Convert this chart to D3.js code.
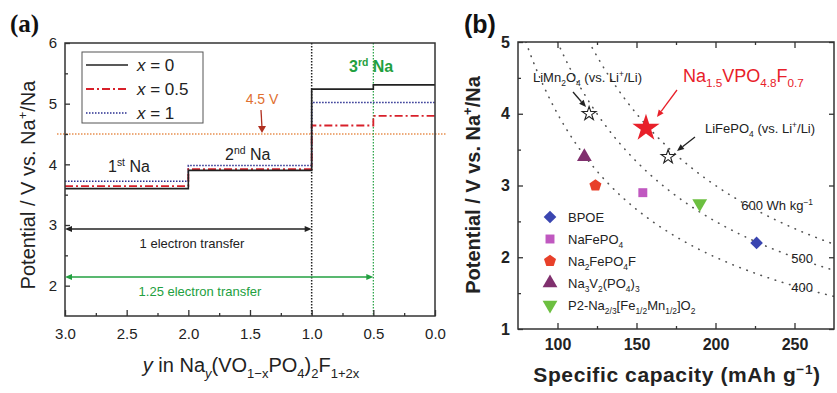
<!DOCTYPE html>
<html>
<head>
<meta charset="utf-8">
<script src="https://cdn.jsdelivr.net/npm/d3@7"></script>
<style>
  body { margin: 0; background: #fff; }
  svg { font-family: "Liberation Sans", Arial, sans-serif; }
</style>
</head>
<body>
<svg id="chart" width="837" height="393"></svg>
<script>
// ---- panel (a) data ----
const stepEdges = [3.0, 2.0, 1.0, 0.5, 0.0];
const potX0 = [3.60, 3.90, 5.24, 5.31];
const potX05 = [3.64, 3.92, 4.64, 4.80];
const potX1 = [3.72, 3.98, 5.02, 5.02];
const legendA = ["0", "0.5", "1"];
const yTicksA = [2, 3, 4, 5, 6];
const xTicksA = [3.0, 2.5, 2.0, 1.5, 1.0, 0.5, 0.0];

// ---- panel (b) data ----
const materials = ["BPOE", "NaFePO4", "Na2FePO4F", "Na3V2(PO4)3", "P2-Na2/3[Fe1/2Mn1/2]O2"];
const matCapacity = [226, 154, 124, 117, 190];
const matPotential = [2.2, 2.9, 3.0, 3.4, 2.75];
const refCapacity = [120, 170];   // LiMn2O4, LiFePO4 (vs Li+/Li)
const refPotential = [4.0, 3.4];
const newCapacity = [156];        // Na1.5VPO4.8F0.7
const newPotential = [3.8];
const energyLevels = [400, 500, 600];
const xTicksB = [100, 150, 200, 250];
const yTicksB = [1, 2, 3, 4, 5];

const svg = d3.select('#chart');

// helper: text with sub/superscripts. parts = [[str, kind, italic]]
function rich(sel, parts, size) {
  let shift = 0;
  parts.forEach(([s, kind, it]) => {
    const target = kind === 'sub' ? size * 0.3 : kind === 'sup' ? -size * 0.4 : 0;
    const t = sel.append('tspan')
      .attr('dy', target - shift)
      .style('font-size', kind ? (size * 0.65) + 'px' : size + 'px')
      .text(s);
    if (it) t.style('font-style', 'italic');
    shift = target;
  });
  return sel;
}

// ================= PANEL (a) =================
const A = { left: 65, right: 435, top: 43, bottom: 316 };
const xA = d3.scaleLinear().domain([3, 0]).range([A.left, A.right]);
const yA = d3.scaleLinear().domain([1.5, 6]).range([A.bottom, A.top]);
const ga = svg.append('g');

// reference lines
ga.append('line')
  .attr('x1', A.left - 8).attr('x2', A.right + 12)
  .attr('y1', yA(4.5)).attr('y2', yA(4.5))
  .attr('stroke', '#e89050').attr('stroke-width', 1.3).attr('stroke-dasharray', '1.5,1.5');
ga.append('line')
  .attr('x1', xA(1)).attr('x2', xA(1)).attr('y1', A.top).attr('y2', A.bottom)
  .attr('stroke', '#222').attr('stroke-width', 1.5).attr('stroke-dasharray', '1.5,1.5');
ga.append('line')
  .attr('x1', xA(0.5)).attr('x2', xA(0.5)).attr('y1', A.top).attr('y2', A.bottom)
  .attr('stroke', '#22a040').attr('stroke-width', 1.2).attr('stroke-dasharray', '1.5,1.5');

// step curves
const stepLine = d3.line().x(d => xA(d[0])).y(d => yA(d[1])).curve(d3.curveStepAfter);
function stepPts(vals) {
  const pts = vals.map((v, i) => [stepEdges[i], v]);
  pts.push([stepEdges[stepEdges.length - 1], vals[vals.length - 1]]);
  return pts;
}
const stylesA = [
  { vals: potX1, color: '#2a2f90', dash: '1.5,1.5', w: 1.6 },
  { vals: potX05, color: '#d8202a', dash: '8,3,2,3', w: 1.8 },
  { vals: potX0, color: '#222', dash: null, w: 1.6 }
];
stylesA.forEach(s => {
  ga.append('path')
    .attr('d', stepLine(stepPts(s.vals)))
    .attr('fill', 'none')
    .attr('stroke', s.color)
    .attr('stroke-width', s.w)
    .attr('stroke-dasharray', s.dash);
});

// frame
ga.append('rect')
  .attr('x', A.left).attr('y', A.top)
  .attr('width', A.right - A.left).attr('height', A.bottom - A.top)
  .attr('fill', 'none').attr('stroke', '#333').attr('stroke-width', 1.5);

// axes with inward ticks
ga.append('g').attr('transform', `translate(${A.left},0)`)
  .call(d3.axisLeft(yA).tickValues(yTicksA).tickSize(-5).tickPadding(8).tickFormat(d3.format('d')));
ga.append('g').attr('transform', `translate(${A.left},0)`)
  .call(d3.axisLeft(yA).tickValues([2.5, 3.5, 4.5, 5.5]).tickSize(-3).tickFormat(''));
ga.append('g').attr('transform', `translate(0,${A.bottom})`)
  .call(d3.axisBottom(xA).tickValues(xTicksA).tickSize(-6).tickPadding(12).tickFormat(d3.format('.1f')));
ga.append('g').attr('transform', `translate(0,${A.bottom})`)
  .call(d3.axisBottom(xA).tickValues([2.75, 2.25, 1.75, 1.25, 0.75, 0.25]).tickSize(-3).tickFormat(''));
ga.selectAll('.domain').remove();
ga.selectAll('.tick line').attr('stroke', '#333').attr('stroke-width', 1.3);
ga.selectAll('.tick text').attr('fill', '#222')
  .style('font-size', '15px').style('font-family', '"Liberation Sans", Arial, sans-serif');

// legend
const lg = ga.append('g');
lg.append('rect').attr('x', 82).attr('y', 52).attr('width', 121).attr('height', 71)
  .attr('fill', '#fff').attr('stroke', '#555').attr('stroke-width', 1);
[stylesA[2], stylesA[1], stylesA[0]].forEach((s, i) => {
  const yy = 65 + i * 24;
  lg.append('line').attr('x1', 86).attr('x2', 128).attr('y1', yy).attr('y2', yy)
    .attr('stroke', s.color).attr('stroke-width', s.w).attr('stroke-dasharray', s.dash);
  rich(lg.append('text').attr('x', 137).attr('y', yy + 6).attr('fill', '#222'),
    [['x', null, true], [' = ' + legendA[i]]], 17);
});

// annotations
ga.append('text').attr('x', 262).attr('y', 104).attr('text-anchor', 'middle')
  .attr('fill', '#e07030').style('font-size', '14px').text('4.5 V');
ga.append('line').attr('x1', 261).attr('y1', 110).attr('x2', 262).attr('y2', 128)
  .attr('stroke', '#b03020').attr('stroke-width', 1.3);
ga.append('path').attr('d', 'M258,126L262,133L266,126Z').attr('fill', '#b03020');

rich(ga.append('text').attr('x', 108).attr('y', 172).attr('fill', '#222'),
  [['1'], ['st', 'sup'], [' Na']], 16);
rich(ga.append('text').attr('x', 225).attr('y', 160).attr('fill', '#222'),
  [['2'], ['nd', 'sup'], [' Na']], 16);
rich(ga.append('text').attr('x', 349).attr('y', 72).attr('fill', '#1fa040').style('font-weight', 'bold'),
  [['3'], ['rd', 'sup'], [' Na']], 16);

function dblArrow(g, x1, x2, y, color) {
  g.append('line').attr('x1', x1 + 4).attr('x2', x2 - 4).attr('y1', y).attr('y2', y)
    .attr('stroke', color).attr('stroke-width', 1.3);
  g.append('path').attr('d', `M${x1},${y}L${x1 + 7},${y - 3}L${x1 + 7},${y + 3}Z`).attr('fill', color);
  g.append('path').attr('d', `M${x2},${y}L${x2 - 7},${y - 3}L${x2 - 7},${y + 3}Z`).attr('fill', color);
}
dblArrow(ga, xA(3), xA(1), 229, '#222');
dblArrow(ga, xA(3), xA(0.5), 277, '#22a040');
ga.append('text').attr('x', 192).attr('y', 248).attr('text-anchor', 'middle')
  .attr('fill', '#222').style('font-size', '13px').text('1 electron transfer');
ga.append('text').attr('x', 200).attr('y', 296).attr('text-anchor', 'middle')
  .attr('fill', '#22a040').style('font-size', '13px').text('1.25 electron transfer');

// axis titles
rich(ga.append('text').attr('transform', 'translate(35,185) rotate(-90)')
  .attr('text-anchor', 'middle').attr('fill', '#222'),
  [['Potential / V vs. Na'], ['+', 'sup'], ['/Na']], 20);
rich(ga.append('text').attr('x', 251).attr('y', 372).attr('text-anchor', 'middle').attr('fill', '#222'),
  [['y', null, true], [' in Na'], ['y', 'sub', true], ['(VO'], ['1−x', 'sub'], ['PO'], ['4', 'sub'],
   [')'], ['2', 'sub'], ['F'], ['1+2x', 'sub']], 20);

svg.append('text').attr('x', 10).attr('y', 32)
  .style('font-family', '"Liberation Serif", "Times New Roman", serif')
  .style('font-weight', 'bold').style('font-size', '25px').attr('fill', '#111').text('(a)');

// ================= PANEL (b) =================
const B = { left: 518, right: 834, top: 42, bottom: 329 };
const xB = d3.scaleLinear().domain([75, 275]).range([B.left, B.right]);
const yB = d3.scaleLinear().domain([1, 5]).range([B.bottom, B.top]);
const gb = svg.append('g');

gb.append('clipPath').attr('id', 'clipB').append('rect')
  .attr('x', B.left).attr('y', B.top).attr('width', B.right - B.left).attr('height', B.bottom - B.top);

// iso-energy curves V = E / C
const isoLine = d3.line().x(d => xB(d[0])).y(d => yB(d[1]));
energyLevels.forEach(E => {
  const pts = d3.range(E / 5.2, 276, 2).map(c => [c, E / c]);
  gb.append('path').attr('d', isoLine(pts)).attr('clip-path', 'url(#clipB)')
    .attr('fill', 'none').attr('stroke', '#555').attr('stroke-width', 1.6)
    .attr('stroke-linecap', 'round').attr('stroke-dasharray', '0.5,7');
});

// frame
gb.append('rect')
  .attr('x', B.left).attr('y', B.top)
  .attr('width', B.right - B.left).attr('height', B.bottom - B.top)
  .attr('fill', 'none').attr('stroke', '#333').attr('stroke-width', 1.5);

gb.append('g').attr('transform', `translate(${B.left},0)`)
  .call(d3.axisLeft(yB).tickValues(yTicksB).tickSize(-5).tickPadding(8).tickFormat(d3.format('d')));
gb.append('g').attr('transform', `translate(${B.left},0)`)
  .call(d3.axisLeft(yB).tickValues([1.5, 2.5, 3.5, 4.5]).tickSize(-3).tickFormat(''));
gb.append('g').attr('transform', `translate(0,${B.bottom})`)
  .call(d3.axisBottom(xB).tickValues(xTicksB).tickSize(-6).tickPadding(10).tickFormat(d3.format('d')));
gb.append('g').attr('transform', `translate(0,${B.bottom})`)
  .call(d3.axisBottom(xB).tickValues([125, 175, 225]).tickSize(-3).tickFormat(''));
gb.append('g').attr('transform', `translate(0,${B.top})`)
  .call(d3.axisTop(xB).tickValues(xTicksB).tickSize(-6).tickFormat(''));
gb.append('g').attr('transform', `translate(0,${B.top})`)
  .call(d3.axisTop(xB).tickValues([125, 175, 225]).tickSize(-3).tickFormat(''));
gb.append('g').attr('transform', `translate(${B.right},0)`)
  .call(d3.axisRight(yB).tickValues(yTicksB).tickSize(-5).tickFormat(''));
gb.selectAll('.domain').remove();
gb.selectAll('.tick line').attr('stroke', '#333').attr('stroke-width', 1.3);
gb.selectAll('.tick text').attr('fill', '#222')
  .style('font-size', '16px').style('font-weight', 'bold')
  .style('font-family', '"Liberation Sans", Arial, sans-serif');

// marker shapes
const pentagon = {
  draw(ctx, size) {
    const r = Math.sqrt(size / 2.38);
    for (let i = 0; i < 5; i++) {
      const a = -Math.PI / 2 + i * 2 * Math.PI / 5;
      if (i === 0) ctx.moveTo(r * Math.cos(a), r * Math.sin(a));
      else ctx.lineTo(r * Math.cos(a), r * Math.sin(a));
    }
    ctx.closePath();
  }
};
const matStyles = [
  { type: d3.symbolSquare, color: '#3a45b0', size: 80, rot: 45 },
  { type: d3.symbolSquare, color: '#c058c0', size: 80, rot: 0 },
  { type: pentagon, color: '#e8402a', size: 95, rot: 0 },
  { type: d3.symbolTriangle, color: '#80306e', size: 95, rot: 0 },
  { type: d3.symbolTriangle, color: '#6cbf40', size: 95, rot: 180 }
];

materials.forEach((m, i) => {
  const s = matStyles[i];
  gb.append('path')
    .attr('d', d3.symbol().type(s.type).size(s.size)())
    .attr('transform', `translate(${xB(matCapacity[i])},${yB(matPotential[i])}) rotate(${s.rot})`)
    .attr('fill', s.color);
});
refCapacity.forEach((c, i) => {
  gb.append('path')
    .attr('d', d3.symbol().type(d3.symbolStar).size(60)())
    .attr('transform', `translate(${xB(c)},${yB(refPotential[i])})`)
    .attr('fill', '#fff').attr('stroke', '#222').attr('stroke-width', 1.1);
});
newCapacity.forEach((c, i) => {
  gb.append('path')
    .attr('d', d3.symbol().type(d3.symbolStar).size(230)())
    .attr('transform', `translate(${xB(c)},${yB(newPotential[i])})`)
    .attr('fill', '#e8202a');
});

// legend (b)
const legendLabels = [
  [['BPOE']],
  [['NaFePO'], ['4', 'sub']],
  [['Na'], ['2', 'sub'], ['FePO'], ['4', 'sub'], ['F']],
  [['Na'], ['3', 'sub'], ['V'], ['2', 'sub'], ['(PO'], ['4', 'sub'], [')'], ['3', 'sub']],
  [['P2-Na'], ['2/3', 'sub'], ['[Fe'], ['1/2', 'sub'], ['Mn'], ['1/2', 'sub'], [']O'], ['2', 'sub']]
];
legendLabels.forEach((parts, i) => {
  const yy = 217 + i * 22;
  const s = matStyles[i];
  gb.append('path')
    .attr('d', d3.symbol().type(s.type).size(s.size)())
    .attr('transform', `translate(550,${yy}) rotate(${s.rot})`)
    .attr('fill', s.color);
  rich(gb.append('text').attr('x', 568).attr('y', yy + 5).attr('fill', '#222'), parts, 13);
});

// energy labels
rich(gb.append('text').attr('x', 813).attr('y', 210).attr('text-anchor', 'end').attr('fill', '#222'),
  [['600 Wh kg'], ['−1', 'sup']], 13);
gb.append('text').attr('x', 813).attr('y', 263).attr('text-anchor', 'end')
  .attr('fill', '#222').style('font-size', '13px').text('500');
gb.append('text').attr('x', 813).attr('y', 292).attr('text-anchor', 'end')
  .attr('fill', '#222').style('font-size', '13px').text('400');

// callouts
function arrow(g, x1, y1, x2, y2, color) {
  const a = Math.atan2(y2 - y1, x2 - x1);
  const bx = x2 - 7 * Math.cos(a), by = y2 - 7 * Math.sin(a);
  g.append('line').attr('x1', x1).attr('y1', y1).attr('x2', bx).attr('y2', by)
    .attr('stroke', color).attr('stroke-width', 1.3);
  const px = -Math.sin(a) * 3, py = Math.cos(a) * 3;
  g.append('path').attr('d', `M${x2},${y2}L${bx + px},${by + py}L${bx - px},${by - py}Z`).attr('fill', color);
}
rich(gb.append('text').attr('x', 533).attr('y', 82).attr('fill', '#222'),
  [['LiMn'], ['2', 'sub'], ['O'], ['4', 'sub'], [' (vs. Li'], ['+', 'sup'], ['/Li)']], 13);
arrow(gb, 573, 92, 586, 107, '#222');
rich(gb.append('text').attr('x', 683).attr('y', 82).attr('fill', '#e8202a'),
  [['Na'], ['1.5', 'sub'], ['VPO'], ['4.8', 'sub'], ['F'], ['0.7', 'sub']], 18);
arrow(gb, 677, 90, 657, 117, '#e8202a');
rich(gb.append('text').attr('x', 705).attr('y', 133).attr('fill', '#222'),
  [['LiFePO'], ['4', 'sub'], [' (vs. Li'], ['+', 'sup'], ['/Li)']], 13);
arrow(gb, 695, 137, 677, 151, '#222');

// axis titles
rich(gb.append('text').attr('transform', 'translate(480,185) rotate(-90)')
  .attr('text-anchor', 'middle').attr('fill', '#222').style('font-weight', 'bold'),
  [['Potential / V vs. Na'], ['+', 'sup'], ['/Na']], 20);
rich(gb.append('text').attr('x', 677).attr('y', 382).attr('text-anchor', 'middle')
  .attr('fill', '#222').style('font-weight', 'bold').style('letter-spacing', '0.6px'),
  [['Specific capacity (mAh g'], ['−1', 'sup'], [')']], 21);

svg.append('text').attr('x', 464).attr('y', 33)
  .style('font-weight', 'bold').style('font-size', '25px').attr('fill', '#111').text('(b)');
</script>
</body>
</html>
